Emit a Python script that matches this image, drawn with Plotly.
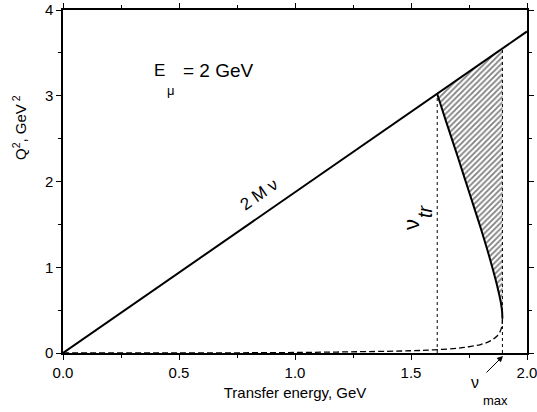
import plotly.graph_objects as go

# 2 M nu line
line_nu = [0.0, 2.0]
line_q2 = [0.0, 3.75]

# characteristic energies
nu_tr = 1.613
nu_max = 1.894
q2_at_tr = 3.02
q2_at_max = 3.55

# upper (solid) boundary from nu_tr to nu_max
upper_nu = [1.613, 1.65, 1.70, 1.75, 1.80, 1.84, 1.87, 1.885, 1.890, 1.892, 1.893, 1.894]
upper_q2 = [3.02, 2.71, 2.30, 1.88, 1.46, 1.10, 0.80, 0.62, 0.54, 0.50, 0.47, 0.40]

# lower (dashed) boundary
lower_nu = [0.0, 0.5, 1.0, 1.5, 1.6, 1.7, 1.75, 1.8, 1.84, 1.87, 1.885, 1.890, 1.892, 1.893, 1.894]
lower_q2 = [0.0, 0.001, 0.006, 0.026, 0.037, 0.056, 0.073, 0.099, 0.138, 0.195, 0.256, 0.296, 0.320, 0.338, 0.40]

FONT = "Liberation Sans, Arial, sans-serif"
W, H = 537, 412
L, R, T, B = 63, 10, 10, 59
pw, ph = W - L - R, H - T - B


def px(xp):
    return (xp - L) / pw


def py(yp):
    return (H - B - yp) / ph


fig = go.Figure()

# hatched region
hx = [nu_tr, nu_max, nu_max] + upper_nu[::-1]
hy = [q2_at_tr, q2_at_max, upper_q2[-1]] + upper_q2[::-1]
fig.add_trace(go.Scatter(
    x=hx, y=hy, mode="lines", fill="toself",
    line=dict(width=0, color="rgba(0,0,0,0)"),
    fillcolor="white",
    fillpattern=dict(shape="/", fgcolor="black", bgcolor="white", size=4, solidity=0.45),
    hoverinfo="skip", showlegend=False))

# dotted verticals
fig.add_trace(go.Scatter(x=[nu_tr, nu_tr], y=[0, q2_at_tr], mode="lines",
                         line=dict(color="black", width=1, dash="dot"), showlegend=False))
fig.add_trace(go.Scatter(x=[nu_max, nu_max], y=[0, q2_at_max], mode="lines",
                         line=dict(color="black", width=1, dash="dot"), showlegend=False))

# 2 M nu line
fig.add_trace(go.Scatter(x=line_nu, y=line_q2, mode="lines",
                         line=dict(color="black", width=2), showlegend=False))

# upper solid curve
fig.add_trace(go.Scatter(x=upper_nu, y=upper_q2, mode="lines", line_shape="spline",
                         line=dict(color="black", width=2), showlegend=False))

# lower dashed curve
fig.add_trace(go.Scatter(x=lower_nu, y=lower_q2, mode="lines", line_shape="spline",
                         line=dict(color="black", width=1.3, dash="6px,3px"), showlegend=False))

axis_common = dict(showgrid=False, zeroline=False, showline=True, linecolor="black",
                   linewidth=1.5, mirror="ticks", ticks="outside", ticklen=5,
                   tickwidth=1, tickcolor="black", automargin=False,
                   ticklabeloverflow="allow",
                   tickfont=dict(family=FONT, size=15, color="black"))

fig.update_xaxes(range=[0, 2.0], dtick=0.5, tickformat=".1f",
                 minor=dict(ticks="outside", ticklen=3, dtick=0.25, tickcolor="black"),
                 title=dict(text="Transfer energy, GeV", font=dict(family=FONT, size=15, color="black"),
                            standoff=8),
                 **axis_common)
fig.update_yaxes(range=[0, 4], dtick=1,
                 minor=dict(ticks="outside", ticklen=3, dtick=0.5, tickcolor="black"),
                 **axis_common)

blk = "black"


def lab(xp, yp, text, size, angle=0, xanchor="center"):
    return dict(x=px(xp), y=py(yp), xref="paper", yref="paper", xanchor=xanchor,
                yanchor="middle", text=text, textangle=angle, showarrow=False,
                font=dict(family=FONT, size=size, color=blk))


annos = [
    # E_mu = 2 GeV
    lab(152, 70, "E", 17, xanchor="left"),
    lab(171, 91, "μ", 13),
    lab(181, 70, "= 2 GeV", 19, xanchor="left"),
    # 2 M nu
    lab(259, 194, "2 M ν", 17, angle=-34.7),
    # nu_tr
    lab(411, 225, "ν", 22, angle=-90),
    lab(425, 211, "<i>tr</i>", 20, angle=-90),
    # nu_max
    lab(475, 382, "ν", 16),
    lab(495, 400, "max", 13),
    # y-axis title
    lab(20, 128, "Q<sup>2</sup>, GeV<sup> 2</sup>", 15, angle=-90),
    # arrow to nu_max
    dict(x=px(503), y=py(356), xref="paper", yref="paper", ax=-18, ay=18,
         text="", showarrow=True, arrowhead=2, arrowsize=1.2, arrowwidth=1, arrowcolor=blk),
]

fig.update_layout(width=W, height=H, margin=dict(l=L, r=R, t=T, b=B),
                  plot_bgcolor="white", paper_bgcolor="white",
                  annotations=annos, showlegend=False)

fig.write_html("out.html", config={"displayModeBar": False},
               post_script="document.body.style.margin='0';document.body.style.overflow='hidden';")
